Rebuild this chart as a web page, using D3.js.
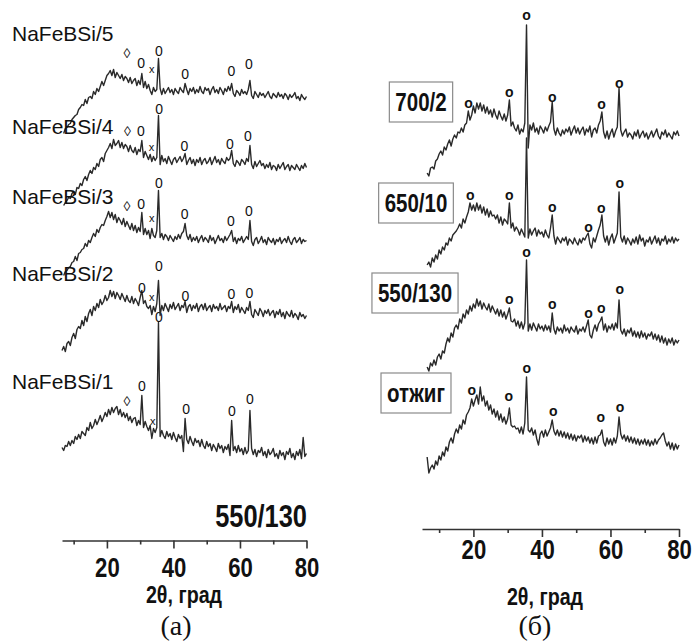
<!DOCTYPE html>
<html>
<head>
<meta charset="utf-8">
<script src="https://cdn.jsdelivr.net/npm/d3@7"></script>
<style>
  body { margin: 0; background: #fff; }
  svg { display: block; }
</style>
</head>
<body>
<svg id="chart" width="692" height="641"></svg>
<script>
// ---------- data ----------
// XRD patterns, 2θ sampled every 0.5°, intensity in arbitrary units.
const step = 0.5;

// Panel (а): NaFeBSi/1 … NaFeBSi/5 after 550 °C / 130 h
const samplesA = ["NaFeBSi/1", "NaFeBSi/2", "NaFeBSi/3", "NaFeBSi/4", "NaFeBSi/5"];
const startA = [6.5, 6.5, 7, 7, 7];
const offsetsA = [93, 190, 265, 335, 407];

const naFeBSi1 = [
  0,-3,2,1,6,2,7,4,11,8, 13,9,16,14,12,20,17,25,19,22, 28,23,27,32,26,30,35,31,38,33,
  40,35,39,41,33,38,31,35,30,34, 27,31,25,29,30,22,27,23,52,20, 26,21,17,22,9,19,15,20,125,11,
  17,12,9,16,11,14,8,15,10,6, 13,9,12,-4,29,8,4,11,6,2, 9,5,7,1,8,2,-1,6,1,4,
  -3,3,0,-4,4,-1,2,-5,1,-2, 3,-8,27,-3,1,-5,2,-4,-1,-7, 0,-6,-3,37,-1,-7,-2,-9,-3,-5,
  0,-8,-4,-10,-2,-7,-5,-1,-9,-6, -11,-3,-8,-5,-12,-4,-7,-1,-10,-6, -12,-4,-8,-2,-11,10,-9,-6
];
const naFeBSi2 = [
  0,4,-1,7,9,5,13,17,12,21, 24,22,30,25,34,29,37,41,35,44, 40,47,43,51,46,49,55,50,53,60,
  54,59,52,58,55,51,57,53,49,55, 50,48,54,47,52,49,45,53,60,47, 50,44,42,45,36,44,39,47,70,35,
  45,40,47,43,39,46,42,48,41,44, 47,40,45,43,49,38,44,46,40,45, 42,47,39,44,46,41,47,40,43,45,
  39,46,42,44,40,47,41,43,45,39, 44,42,49,38,44,41,46,38,43,40, 37,43,40,49,36,33,41,38,35,42,
  39,34,40,37,41,35,38,40,33,39, 36,41,34,38,32,39,36,34,40,33, 37,35,31,38,34,36,32,35
];
const naFeBSi3 = [
  0,4,5,8,9,13,14,19,15,22, 23,26,27,32,29,35,33,38,42,39, 46,43,48,51,50,55,59,64,58,63,
  56,61,53,58,55,51,57,49,54,50, 46,52,45,50,43,48,44,63,41,47, 41,45,37,47,40,38,45,85,38,42,
  36,41,39,35,40,37,34,39,36,41, 37,42,44,52,40,36,41,34,38,35, 39,33,37,40,34,38,36,33,40,35,
  38,32,36,40,35,37,33,39,35,38, 41,45,34,38,32,37,35,39,33,36, 39,36,55,34,30,36,38,32,35,39,
  33,36,31,38,35,33,37,31,36,34, 38,32,35,37,33,39,34,31,36,38, 33,35,38,32,36,34,35
];
const naFeBSi4 = [
  0,3,5,8,7,12,14,11,18,17, 22,20,26,29,25,31,35,32,38,36, 42,39,46,48,44,52,55,58,62,57,
  66,60,62,65,58,63,57,61,59,54, 60,55,53,58,51,56,54,65,48,54, 50,46,51,44,49,45,48,90,41,50,
  44,47,42,49,45,41,46,48,43,46, 49,44,47,52,41,45,48,42,46,40, 46,43,48,41,45,47,42,44,48,41,
  45,49,43,46,41,47,44,42,48,45, 47,55,42,39,45,43,40,46,44,41, 47,44,60,41,37,44,39,42,45,40,
  42,37,41,38,43,36,40,39,35,41, 37,40,43,36,39,41,35,40,38,36, 41,38,35,40,37,42,38
];
const naFeBSi5 = [
  0,5,6,9,10,14,16,18,19,24, 26,29,28,34,30,36,37,35,42,39, 45,42,47,52,48,53,58,60,63,58,
  64,56,61,58,55,59,53,57,55,51, 56,50,53,55,48,53,49,60,46,52, 45,49,43,39,46,42,44,75,45,39,
  45,40,43,46,41,44,39,45,42,40, 46,43,41,50,44,39,45,42,46,40, 44,41,47,42,40,46,43,45,39,44,
  47,41,44,40,46,43,39,45,42,47, 43,50,40,37,43,41,38,44,40,42, 39,44,53,38,35,42,39,36,41,38,
  40,36,39,42,37,35,40,38,36,41, 37,39,35,40,38,34,39,36,38,41, 35,37,33,39,36,34,37
];

// phase marks: [2θ, height of the mark, symbol]
const marksA1 = [[26,47,"◊"],[30.5,62,"0"],[33.8,27,"x"],[35.6,131,"0"],[43.8,39,"0"],[57.6,37,"0"],[63,49,"0"]];
const marksA2 = [[30.5,63,"0"],[33.5,54,"x"],[35.6,85,"0"],[43.6,55,"0"],[57.4,57,"0"],[62.8,58,"0"]];
const marksA3 = [[26,70,"◊"],[30.3,72,"0"],[33.5,58,"x"],[35.6,93,"0"],[43.4,62,"0"],[57.3,55,"0"],[62.7,65,"0"]];
const marksA4 = [[26.2,75,"◊"],[30.2,75,"0"],[33.4,59,"x"],[35.7,97,"0"],[43.3,60,"0"],[57,62,"0"],[62.4,70,"0"]];
const marksA5 = [[26,81,"◊"],[30.3,71,"0"],[33.5,65,"x"],[35.6,83,"0"],[43.5,60,"0"],[57.4,63,"0"],[62.7,70,"0"]];

// Panel (б): one composition after different heat treatments
const regimesB = ["отжиг", "550/130", "650/10", "700/2"];
const startB = [6.5, 6.5, 6.5, 6.5];
const offsetsB = [56, 162, 264, 356];

const annealed = [
  16,0,5,8,4,12,8,17,13,21, 17,26,22,31,35,30,39,44,40,48, 44,53,49,58,61,65,74,67,73,78,
  69,86,72,77,67,72,63,68,59,64, 56,62,53,59,51,56,49,54,65,48, 46,47,44,45,40,46,39,50,96,43,
  41,45,38,43,34,28,39,42,36,43, 37,41,45,53,42,38,43,37,42,36, 41,35,40,34,39,33,38,32,37,35,
  38,31,37,32,36,30,35,29,36,30, 37,38,43,31,27,35,29,34,28,35, 30,37,56,39,34,38,32,37,31,36,
  30,35,29,34,28,33,29,34,28,33, 27,32,28,34,29,33,35,38,40,32, 27,31,24,30,23,29,24,28
];
const t550h130 = [
  0,-4,4,1,7,2,10,13,8,16, 14,23,29,25,34,30,39,42,38,48, 44,53,49,57,53,61,56,63,59,68,
  61,66,58,64,60,57,63,55,61,57, 53,58,51,57,50,55,48,53,59,46, 45,48,41,46,39,45,38,44,107,36,
  43,37,44,40,36,43,38,41,36,42, 37,41,35,54,38,33,40,36,39,34, 42,36,39,34,40,37,35,41,33,38,
  36,40,35,41,47,32,29,37,42,36, 43,46,50,37,43,35,41,38,43,37, 44,39,67,37,33,38,31,37,34,39,
  31,36,30,35,29,36,30,34,28,33, 31,35,28,33,27,32,25,31,24,29, 22,28,24,29,22,27,24,27
];
const t650h10 = [
  0,3,-2,7,3,10,6,15,11,18, 15,22,20,27,24,30,32,34,37,41, 37,46,42,48,53,62,55,60,54,62,
  55,60,52,58,50,56,48,54,49,50, 46,50,42,48,40,46,44,41,62,37, 42,34,38,35,30,36,32,28,127,27,
  36,30,34,37,29,35,31,33,28,35, 30,27,37,50,29,21,28,25,22,27, 24,28,20,26,24,21,27,23,20,26,
  22,27,25,29,32,21,17,27,23,29, 35,40,50,29,23,29,20,27,31,22, 27,32,73,28,23,29,21,27,24,20,
  26,22,28,21,30,24,27,19,25,23, 28,21,25,29,22,27,20,26,24,29, 21,26,23,28,22,27,24,26
];
const t700h2 = [
  0,-3,5,6,4,12,14,19,22,18, 26,23,29,33,27,34,38,35,41,40, 45,41,48,50,62,53,58,67,60,70,
  64,70,62,68,60,66,59,63,56,64, 58,54,62,57,53,59,52,58,73,47, 51,45,42,48,39,44,41,50,148,25,
  48,43,50,41,45,39,47,44,40,46, 42,47,51,71,44,38,45,40,37,43, 39,44,41,46,38,43,47,40,45,39,
  43,46,38,44,41,47,36,43,45,40, 48,52,61,41,35,42,34,40,44,36, 42,46,85,43,37,41,44,36,40,38,
  34,41,37,43,35,39,42,36,40,34, 38,42,36,40,44,37,34,41,38,43, 36,40,37,34,41,38,42,37
];

const marksB1 = [[19.5,83],[30.3,77],[35.6,105],[43.3,62],[57.2,56],[62.8,66]];
const marksB2 = [[30.5,68],[35.5,115],[43,63],[53.6,54],[57.3,59],[62.7,78]];
const marksB3 = [[19.1,70],[30.5,70],[43,58],[53.6,38],[57.3,57],[62.7,82]];
const marksB4 = [[18.6,70],[30.5,81],[35.5,158],[43,76],[57.4,69],[62.6,90]];

const majorTicks = [20, 40, 60, 80];
const minorTicks = [10, 30, 50, 70];
const axisTitle = "2θ, град";

// ---------- drawing ----------
const svg = d3.select("#chart");
const SANS = "'Liberation Sans', Arial, sans-serif";
const NARROW = 0.82;   // horizontal squeeze for the condensed bold labels

function narrowText(parent, x, y, str, size, anchor) {
  const g = parent.append("g").attr("transform", `translate(${x},${y})`);
  g.append("text")
    .attr("transform", `scale(${NARROW},1)`)
    .attr("text-anchor", anchor)
    .attr("font-family", SANS)
    .attr("font-weight", "bold")
    .attr("font-size", size)
    .attr("fill", "#111")
    .text(str);
  return g;
}

function drawPanel(cfg) {
  const g = svg.append("g");
  const x = d3.scaleLinear().domain(cfg.xDomain).range(cfg.xRange);
  const y = d3.scaleLinear().domain([0, 500]).range([cfg.axisY, cfg.axisY - 500]);

  cfg.series.forEach((vals, k) => {
    const x0 = cfg.starts[k], off = cfg.offsets[k];
    const line = d3.line()
      .x((d, i) => x(x0 + i * step))
      .y(d => y(off + d));
    g.append("path")
      .datum(vals)
      .attr("fill", "none")
      .attr("stroke", "#2a2a2a")
      .attr("stroke-width", 1.4)
      .attr("stroke-linejoin", "round")
      .attr("d", line);

    g.selectAll(null)
      .data(cfg.marks[k])
      .join("text")
      .attr("x", d => x(d[0]))
      .attr("y", d => y(off + d[1]))
      .attr("text-anchor", "middle")
      .attr("dominant-baseline", "central")
      .attr("font-family", SANS)
      .attr("font-weight", cfg.markWeight)
      .attr("font-size", d => (d[2] === "x" ? cfg.markSize - 3 : cfg.markSize))
      .attr("fill", "#111")
      .text(d => d[2] || cfg.markSymbol);
  });

  // x axis: long ticks at 20…80, short ones in between
  const axisG = g.append("g").attr("transform", `translate(0,${cfg.axisY})`);
  axisG.call(d3.axisBottom(x).tickValues(majorTicks).tickSize(8).tickSizeOuter(0)
      .tickPadding(cfg.tickPad).tickFormat(d3.format("d")));
  axisG.append("g").call(d3.axisBottom(x).tickValues(minorTicks).tickSize(4)
      .tickSizeOuter(0).tickFormat(""))
    .select(".domain").remove();
  axisG.selectAll("path, line").attr("stroke", "#333").attr("stroke-width", 1.6);
  axisG.selectAll("text")
    .attr("transform", `scale(${NARROW},1)`)
    .attr("font-family", SANS)
    .attr("font-weight", "bold")
    .attr("font-size", 27)
    .attr("fill", "#111");

  narrowText(g, cfg.titlePos[0], cfg.titlePos[1], axisTitle, 24, "middle");
  g.append("text")
    .attr("x", cfg.capPos[0]).attr("y", cfg.capPos[1])
    .attr("text-anchor", "middle")
    .attr("font-family", "'Liberation Serif', 'Times New Roman', serif")
    .attr("font-size", 28)
    .attr("fill", "#111")
    .text(cfg.caption);
  return g;
}

// panel (а)
const gA = drawPanel({
  xDomain: [6.5, 80], xRange: [62, 306.5], axisY: 540.5, tickPad: 9,
  series: [naFeBSi1, naFeBSi2, naFeBSi3, naFeBSi4, naFeBSi5],
  starts: startA, offsets: offsetsA,
  marks: [marksA1, marksA2, marksA3, marksA4, marksA5],
  markSymbol: "0", markSize: 14, markWeight: "normal",
  titlePos: [184, 603], capPos: [176, 635], caption: "(а)"
});
const labelBaselinesA = [389, 281, 204, 134, 41];
samplesA.forEach((name, k) => {
  gA.append("text")
    .attr("x", 12).attr("y", labelBaselinesA[k])
    .attr("font-family", SANS)
    .attr("font-size", 21)
    .attr("fill", "#111")
    .text(name);
});
narrowText(gA, 307, 527, "550/130", 31, "end");

// panel (б)
const gB = drawPanel({
  xDomain: [5, 80], xRange: [422, 679], axisY: 529, tickPad: 3,
  series: [annealed, t550h130, t650h10, t700h2],
  starts: startB, offsets: offsetsB,
  marks: [marksB1, marksB2, marksB3, marksB4],
  markSymbol: "o", markSize: 14, markWeight: "bold",
  titlePos: [545, 605], capPos: [535, 635], caption: "(б)"
});
const boxCentresB = [[416, 393], [415, 293], [416, 203], [421, 102]];
regimesB.forEach((name, k) => {
  const [cx, cy] = boxCentresB[k];
  const tg = narrowText(gB, cx, cy + 9, name, 25, "middle");
  const bb = tg.node().getBBox();
  gB.insert("rect", () => tg.node())
    .attr("x", cx + bb.x - 6).attr("y", cy - 20)
    .attr("width", bb.width + 12).attr("height", 40)
    .attr("fill", "#fff")
    .attr("stroke", "#8a8a8a")
    .attr("stroke-width", 1.2);
});
</script>
</body>
</html>
